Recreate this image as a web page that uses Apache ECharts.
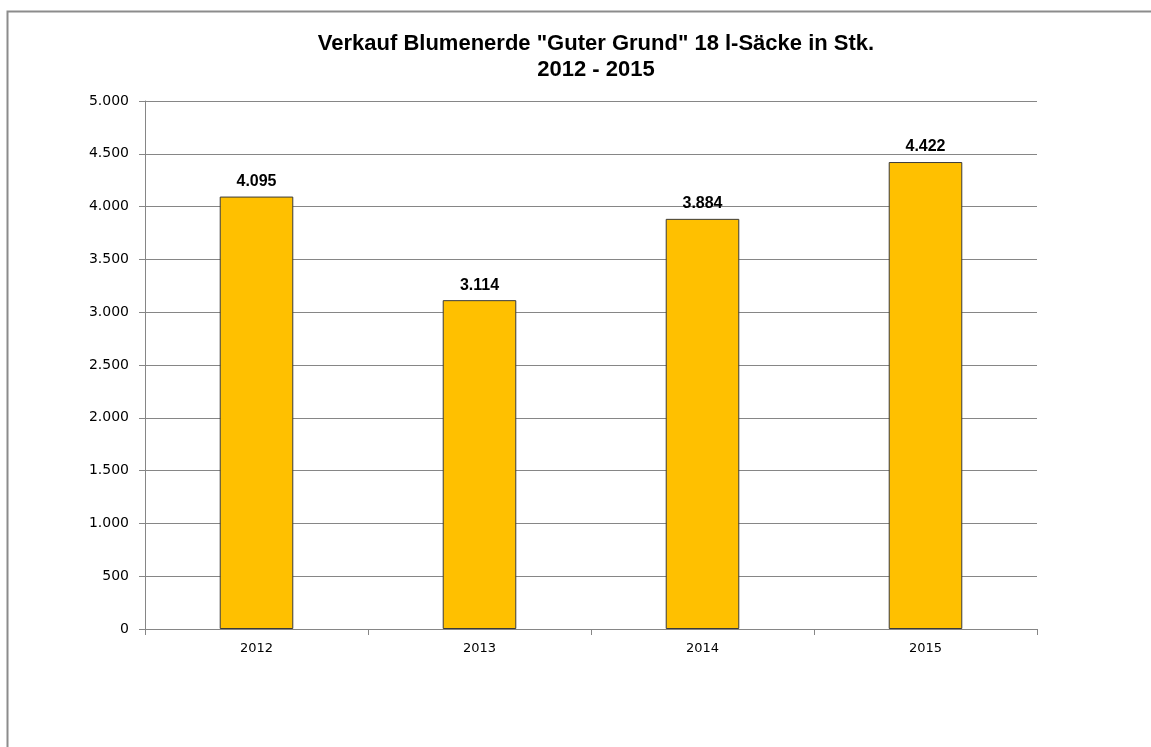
<!DOCTYPE html>
<html><head><meta charset="utf-8">
<script src="https://cdn.jsdelivr.net/npm/echarts@6/dist/echarts.min.js"></script>
<style>html,body{margin:0;padding:0;background:#fff}#c{width:1151px;height:747px}</style>
</head><body><div id="c"></div>
<script>
const categories = ['2012', '2013', '2014', '2015'];
const values = [4095, 3114, 3884, 4422];
const titleLines = ['Verkauf Blumenerde "Guter Grund" 18 l-Säcke in Stk.', '2012 - 2015'];

function de(v){ return String(v).replace(/\B(?=(\d{3})+(?!\d))/g, '.'); }

const chart = echarts.init(document.getElementById('c'), null, {renderer:'canvas'});
chart.setOption({
  animation:false,
  backgroundColor:'#fff',
  graphic:[{type:'rect', shape:{x:7.5,y:11.5,width:1200,height:800}, style:{fill:'none', stroke:'#8c8c8c', lineWidth:2}, z:-1}],
  title:{
    text: titleLines.join('\n'), left:596, top:31, padding:0, textAlign:'center',
    textStyle:{fontFamily:'Liberation Sans, Arial, sans-serif', fontSize:22, fontWeight:'bold', color:'#000', lineHeight:26}
  },
  grid:{left:145, right:114, top:101, bottom:118, containLabel:false},
  xAxis:{
    type:'category', data:categories,
    axisLine:{lineStyle:{color:'#868686'}},
    axisTick:{show:true, length:6, lineStyle:{color:'#868686'}},
    axisLabel:{color:'#000', fontFamily:'DejaVu Sans, sans-serif', fontSize:13, margin:13}
  },
  yAxis:{
    type:'value', min:0, max:5000, interval:500,
    axisLine:{show:true, lineStyle:{color:'#868686'}},
    axisTick:{show:true, length:6, lineStyle:{color:'#868686'}},
    splitLine:{lineStyle:{color:'#868686'}},
    axisLabel:{color:'#000', fontFamily:'DejaVu Sans, sans-serif', fontSize:14, margin:16, formatter:de}
  },
  series:[{
    type:'bar', data:values, barWidth:'33%',
    itemStyle:{color:'#FFC000', borderColor:'#3a3a3a', borderWidth:1},
    label:{show:true, position:'top', distance:7, formatter:p=>de(p.value),
      fontFamily:'Liberation Sans, Arial, sans-serif', fontSize:16, fontWeight:'bold', color:'#000'}
  }]
});
</script></body></html>
